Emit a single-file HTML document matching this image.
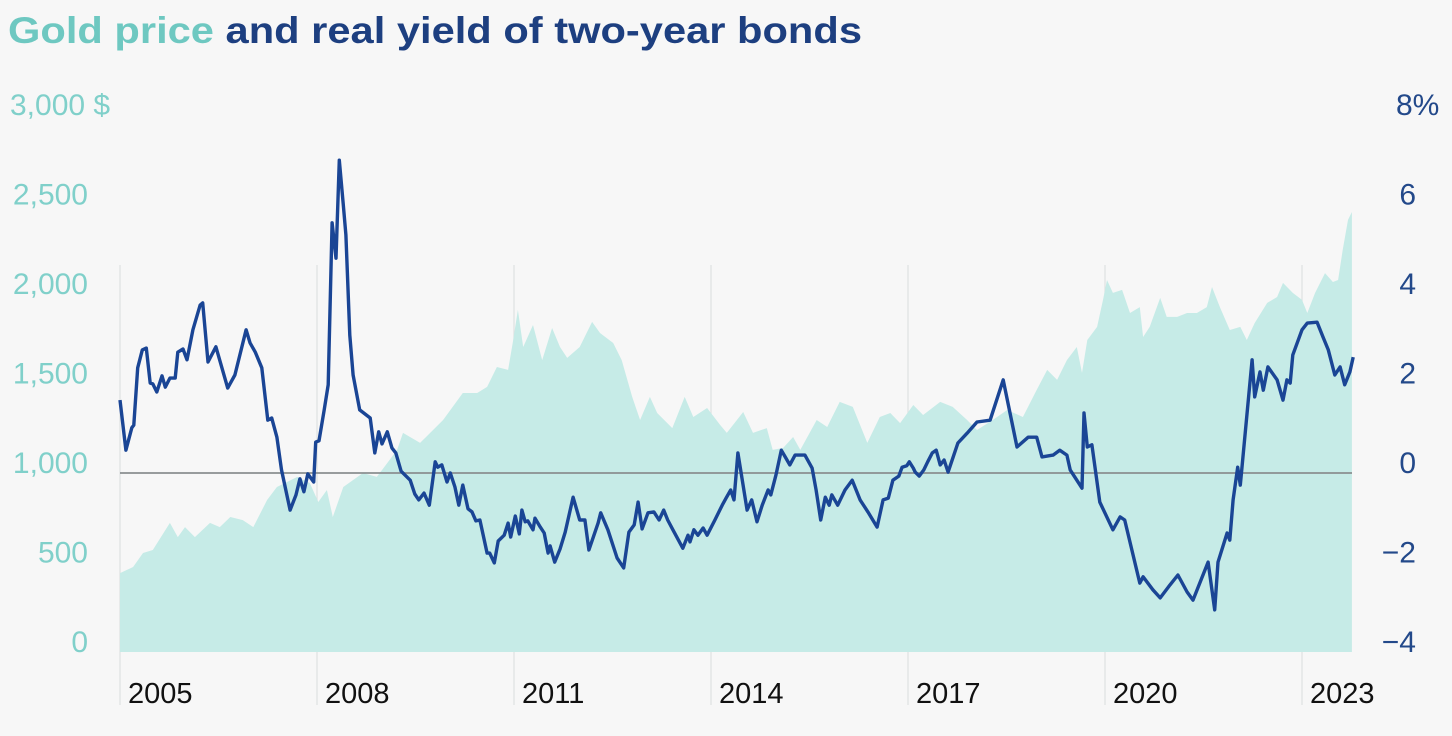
<!DOCTYPE html>
<html><head><meta charset="utf-8"><style>
html,body{margin:0;padding:0;background:#f7f7f7;}
svg{display:block;font-family:"Liberation Sans",sans-serif;}
</style></head><body>
<svg id="chart" width="1452" height="736" viewBox="0 0 1452 736">
<rect width="1452" height="736" fill="#f7f7f7"/>
<text x="8" y="43" font-size="37" font-weight="bold" textLength="854" lengthAdjust="spacingAndGlyphs"><tspan fill="#6ec8c1">Gold price</tspan><tspan fill="#1d3f80"> and real yield of two-year bonds</tspan></text>
<g id="grid"></g>
<g id="area"></g>
<g id="zero"></g>
<g id="line"></g>
<g id="axes"></g>
</svg>
<script>
const goldYears=[2005.00,2005.20,2005.35,2005.50,2005.76,2005.88,2005.99,2006.14,2006.37,2006.52,2006.68,2006.87,2007.03,2007.24,2007.39,2007.70,2007.89,2008.02,2008.15,2008.24,2008.40,2008.70,2008.91,2009.22,2009.31,2009.57,2009.92,2010.22,2010.44,2010.59,2010.74,2010.91,2010.98,2011.06,2011.14,2011.29,2011.43,2011.58,2011.70,2011.81,2012.00,2012.19,2012.31,2012.51,2012.64,2012.80,2012.92,2013.07,2013.18,2013.41,2013.60,2013.73,2013.94,2014.14,2014.24,2014.49,2014.64,2014.85,2014.94,2015.10,2015.25,2015.36,2015.61,2015.77,2015.96,2016.16,2016.38,2016.57,2016.73,2016.88,2017.08,2017.23,2017.49,2017.68,2017.90,2018.05,2018.29,2018.51,2018.75,2018.96,2019.12,2019.27,2019.42,2019.57,2019.65,2019.73,2019.88,2019.97,2020.03,2020.12,2020.26,2020.38,2020.53,2020.58,2020.68,2020.84,2020.94,2021.10,2021.25,2021.40,2021.55,2021.63,2021.75,2021.90,2022.06,2022.16,2022.28,2022.47,2022.62,2022.71,2022.86,2023.00,2023.08,2023.20,2023.35,2023.47,2023.55,2023.62,2023.70,2023.76];
const goldPrice=[441,475,553,570,721,642,698,642,721,698,754,737,698,849,922,978,944,838,905,754,922,1000,978,1129,1224,1168,1296,1447,1447,1481,1592,1576,1726,1911,1704,1827,1631,1810,1704,1643,1704,1844,1782,1726,1631,1425,1296,1425,1335,1251,1425,1313,1363,1268,1224,1341,1224,1251,1129,1140,1201,1129,1296,1257,1397,1369,1168,1313,1335,1279,1380,1324,1397,1369,1296,1240,1296,1352,1313,1464,1576,1520,1631,1704,1559,1743,1816,1967,2078,2006,2023,1894,1927,1760,1816,1978,1872,1872,1894,1894,1927,2039,1927,1799,1816,1743,1838,1950,1983,2062,2006,1967,1894,2006,2117,2067,2078,2246,2414,2458];
const yieldYears=[2005.00,2005.09,2005.18,2005.21,2005.27,2005.34,2005.40,2005.46,2005.50,2005.56,2005.64,2005.69,2005.76,2005.84,2005.88,2005.96,2006.02,2006.11,2006.22,2006.26,2006.34,2006.46,2006.64,2006.75,2006.92,2006.98,2007.06,2007.16,2007.25,2007.31,2007.39,2007.46,2007.59,2007.68,2007.74,2007.80,2007.86,2007.95,2007.98,2008.03,2008.11,2008.17,2008.23,2008.29,2008.34,2008.40,2008.44,2008.50,2008.55,2008.65,2008.81,2008.88,2008.94,2008.99,2009.07,2009.14,2009.20,2009.28,2009.42,2009.49,2009.55,2009.63,2009.71,2009.80,2009.84,2009.90,2009.98,2010.03,2010.10,2010.16,2010.22,2010.30,2010.36,2010.42,2010.48,2010.59,2010.63,2010.70,2010.76,2010.85,2010.91,2010.95,2011.02,2011.08,2011.12,2011.17,2011.21,2011.29,2011.32,2011.40,2011.46,2011.52,2011.55,2011.62,2011.70,2011.78,2011.90,2012.00,2012.08,2012.14,2012.28,2012.32,2012.43,2012.57,2012.67,2012.75,2012.83,2012.89,2012.95,2013.04,2013.13,2013.21,2013.28,2013.34,2013.42,2013.57,2013.65,2013.68,2013.74,2013.80,2013.88,2013.94,2014.06,2014.17,2014.23,2014.30,2014.35,2014.41,2014.55,2014.62,2014.70,2014.78,2014.87,2014.91,2014.99,2015.07,2015.13,2015.20,2015.28,2015.43,2015.54,2015.60,2015.67,2015.74,2015.80,2015.84,2015.93,2016.04,2016.15,2016.27,2016.39,2016.53,2016.62,2016.70,2016.77,2016.86,2016.91,2016.98,2017.02,2017.08,2017.11,2017.17,2017.24,2017.30,2017.37,2017.43,2017.49,2017.55,2017.61,2017.76,2017.90,2018.05,2018.25,2018.45,2018.66,2018.83,2018.96,2019.04,2019.21,2019.31,2019.42,2019.47,2019.65,2019.68,2019.73,2019.80,2019.92,2020.12,2020.23,2020.30,2020.53,2020.58,2020.73,2020.84,2020.99,2021.11,2021.25,2021.34,2021.57,2021.67,2021.72,2021.86,2021.90,2021.95,2022.02,2022.06,2022.24,2022.28,2022.36,2022.41,2022.48,2022.62,2022.71,2022.77,2022.82,2022.86,2023.00,2023.08,2023.23,2023.32,2023.40,2023.50,2023.58,2023.65,2023.73,2023.78];
const yieldValues=[1.63,0.51,1.01,1.07,2.35,2.75,2.79,2.01,1.99,1.81,2.17,1.92,2.12,2.12,2.70,2.77,2.53,3.20,3.75,3.80,2.48,2.82,1.90,2.19,3.20,2.91,2.70,2.35,1.18,1.23,0.80,0.07,-0.83,-0.49,-0.13,-0.42,-0.02,-0.20,0.69,0.72,1.41,1.97,5.59,4.80,6.99,5.99,5.32,3.08,2.19,1.41,1.23,0.45,0.92,0.65,0.92,0.56,0.45,0.04,-0.16,-0.47,-0.60,-0.45,-0.72,0.25,0.13,0.18,-0.20,0.00,-0.31,-0.72,-0.27,-0.80,-0.87,-1.07,-1.05,-1.79,-1.79,-2.01,-1.52,-1.39,-1.12,-1.43,-0.96,-1.36,-0.83,-1.09,-1.07,-1.27,-1.01,-1.21,-1.34,-1.79,-1.63,-1.99,-1.70,-1.32,-0.54,-1.05,-1.05,-1.72,-1.12,-0.89,-1.27,-1.90,-2.12,-1.32,-1.16,-0.65,-1.25,-0.89,-0.87,-1.05,-0.83,-1.05,-1.27,-1.68,-1.39,-1.54,-1.27,-1.39,-1.23,-1.39,-1.05,-0.72,-0.56,-0.38,-0.60,0.45,-0.83,-0.60,-1.09,-0.72,-0.38,-0.49,-0.04,0.51,0.36,0.18,0.40,0.40,0.11,-0.38,-1.05,-0.54,-0.72,-0.49,-0.72,-0.38,-0.16,-0.60,-0.87,-1.21,-0.60,-0.56,-0.16,-0.07,0.13,0.16,0.25,0.11,0.02,-0.07,0.07,0.25,0.45,0.51,0.18,0.29,0.02,0.67,0.89,1.14,1.18,2.08,0.58,0.80,0.80,0.36,0.40,0.51,0.40,0.07,-0.34,1.34,0.58,0.63,-0.65,-1.27,-0.98,-1.05,-2.46,-2.32,-2.61,-2.79,-2.50,-2.28,-2.66,-2.84,-1.99,-3.06,-1.99,-1.34,-1.50,-0.60,0.13,-0.27,2.53,1.70,2.26,1.85,2.37,2.08,1.63,2.08,2.01,2.64,3.20,3.35,3.37,3.04,2.75,2.19,2.37,1.97,2.26,2.59];
const xTicks=[2005,2008,2011,2014,2017,2020,2023];
const goldTicks=[0,500,1000,1500,2000,2500,3000];
const goldTickLabels=["0","500","1,000","1,500","2,000","2,500","3,000 $"];
const yieldTicks=[-4,-2,0,2,4,6,8];
const yieldTickLabels=["\u22124","\u22122","0","2","4","6","8%"];

const NS="http://www.w3.org/2000/svg";
const X0=120, PXY=65.667, TOP=115, BOT=652;
function xs(yr){return X0+(yr-2005)*PXY;}
function yGold(v){return BOT-(v/3000)*(BOT-TOP);}
function yYield(v){return BOT-((v+4)/12)*(BOT-TOP);}
function mk(tag,attrs,parent){const e=document.createElementNS(NS,tag);for(const k in attrs)e.setAttribute(k,attrs[k]);parent.appendChild(e);return e;}

const grid=document.getElementById('grid');
xTicks.forEach(t=>{
  const l=mk('line',{x1:xs(t),x2:xs(t),y1:TOP+150,y2:705,stroke:'#dfe1e1','stroke-width':1.2},grid);
  
  
});

const area=document.getElementById('area');
let d='M'+xs(goldYears[0])+','+BOT;
goldYears.forEach((yr,i)=>{d+=' L'+xs(yr).toFixed(1)+','+yGold(goldPrice[i]).toFixed(1);});
d+=' L'+xs(goldYears[goldYears.length-1]).toFixed(1)+','+BOT+' Z';
const ap=mk('path',{d:d,fill:'#c6ebe7'},area);



const zero=document.getElementById('zero');
const zl=mk('line',{x1:X0,x2:1352,y1:yYield(0),y2:yYield(0),stroke:'#8a8f90','stroke-width':1.8},zero);



const line=document.getElementById('line');
let ld='';
yieldYears.forEach((yr,i)=>{ld+=(i?' L':'M')+xs(yr).toFixed(1)+','+yYield(yieldValues[i]).toFixed(1);});
const lp=mk('path',{d:ld,fill:'none',stroke:'#1a4595','stroke-width':3.4,'stroke-linejoin':'round'},line);



const axes=document.getElementById('axes');
goldTicks.forEach((v,i)=>{
  const last=i===goldTicks.length-1;
  const t=mk('text',{x:last?10:88,y:yGold(v),'text-anchor':last?'start':'end','font-size':30,fill:'#80d0ca'},axes);
  t.textContent=goldTickLabels[i];
  
  
});
yieldTicks.forEach((v,i)=>{
  const last=i===yieldTicks.length-1;
  const t=mk('text',{x:last?1396:1416,y:yYield(v),'text-anchor':last?'start':'end','font-size':30,fill:'#23498a'},axes);
  t.textContent=yieldTickLabels[i];
  
  
});
xTicks.forEach(v=>{
  const t=mk('text',{x:xs(v)+8,y:703,'font-size':29,fill:'#111'},axes);
  t.textContent=String(v);
  
  
});
</script>
</body></html>
